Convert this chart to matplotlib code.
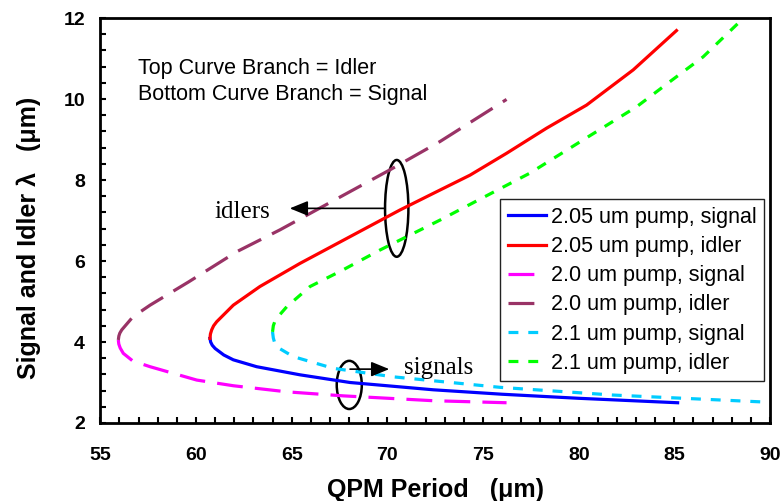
import numpy as np
import matplotlib
matplotlib.use("Agg")
import matplotlib.pyplot as plt
from matplotlib.patches import Ellipse

plt.rcParams['font.family'] = ['Liberation Sans', 'DejaVu Sans']

# 2.05 um pump
sig205_x = [60.73, 60.765, 60.85, 61.0, 61.45, 61.95, 63.17, 65.43, 68.05, 72.4, 76.0, 80.0, 85.17]
sig205_y = [4.09, 4.0, 3.92, 3.84, 3.68, 3.56, 3.39, 3.19, 3.00, 2.82, 2.71, 2.61, 2.50]
idl205_x = [60.73, 60.755, 60.82, 60.92, 61.08, 61.95, 63.34, 65.43, 70.66, 72.40, 74.32, 76.23, 78.32, 80.41, 82.85, 85.11]
idl205_y = [4.09, 4.2, 4.3, 4.4, 4.50, 4.91, 5.37, 5.94, 7.26, 7.67, 8.12, 8.66, 9.28, 9.85, 10.72, 11.69]
# 2.0 um pump
sig20_x = [55.94, 55.965, 56.04, 56.2, 56.7, 57.6, 60.04, 61.95, 64.74, 67.70, 72.4, 76.23]
sig20_y = [4.05, 3.95, 3.85, 3.72, 3.53, 3.39, 3.06, 2.92, 2.77, 2.67, 2.55, 2.50]
idl20_x = [55.94, 55.97, 56.02, 56.12, 56.7, 57.6, 59.6, 62.13, 64.39, 70.13, 72.75, 76.23]
idl20_y = [4.05, 4.15, 4.22, 4.30, 4.62, 4.91, 5.48, 6.23, 6.77, 8.25, 8.95, 9.99]
# 2.1 um pump
sig21_x = [64.0, 64.04, 64.1, 64.22, 65.08, 67.17, 70.31, 75.9, 81.8, 89.6]
sig21_y = [4.25, 4.1, 4.0, 3.88, 3.64, 3.35, 3.14, 2.88, 2.69, 2.52]
idl21_x = [64.0, 64.04, 64.15, 64.74, 65.96, 67.6, 69.61, 72.75, 74.49, 77.45, 80.23, 83.03, 84.77, 86.5, 88.33]
idl21_y = [4.25, 4.40, 4.55, 4.87, 5.37, 5.76, 6.27, 7.01, 7.44, 8.17, 8.99, 9.81, 10.43, 11.04, 11.87]

fig, ax = plt.subplots(figsize=(7.82, 5.01), dpi=100)
fig.subplots_adjust(left=0.1283, right=0.9847, bottom=0.1557, top=0.964)

lw = 2.3
long_dash = (0, (8.1, 3.8))
short_dash = (0, (3.1, 3.1))
ax.plot(sig205_x, sig205_y, color='#0000FF', lw=lw, label='2.05 um pump, signal')
ax.plot(idl205_x, idl205_y, color='#FF0000', lw=lw, label='2.05 um pump, idler')
ax.plot(sig20_x, sig20_y, color='#FF00FF', lw=lw, ls=long_dash, label='2.0 um pump, signal')
ax.plot(idl20_x, idl20_y, color='#993366', lw=lw, ls=long_dash, label='2.0 um pump, idler')
ax.plot(sig21_x, sig21_y, color='#00CCFF', lw=lw, ls=short_dash, label='2.1 um pump, signal')
ax.plot(idl21_x, idl21_y, color='#00FF00', lw=lw, ls=short_dash, label='2.1 um pump, idler')

ax.set_xlim(55, 90)
ax.set_ylim(2, 12)
ax.set_xticks(np.arange(55, 91, 5))
ax.set_xticks(np.arange(55, 91, 1), minor=True)
ax.set_yticks(np.arange(2, 13, 2))
ax.set_yticks(np.arange(2, 12.01, 0.4), minor=True)
ax.tick_params(which='both', direction='in', length=4.5, width=1.5, top=False, right=False)
ax.tick_params(axis='x', which='major', pad=17, labelsize=14)
ax.tick_params(axis='y', which='major', pad=11, labelsize=14)
for lab in ax.get_xticklabels() + ax.get_yticklabels():
    lab.set_fontweight('bold')
for sp in ax.spines.values():
    sp.set_linewidth(2.0)

ax.set_xlabel('QPM Period   (\u03bcm)', fontsize=18, fontweight='bold')
ax.xaxis.set_label_coords(0.5, -0.135)
ax.set_ylabel('Signal and Idler \u03bb   (\u03bcm)', fontsize=18, fontweight='bold')
ax.yaxis.set_label_coords(-0.088, 0.457)

ax.text(56.97, 10.63, 'Top Curve Branch = Idler', fontsize=15.5)
ax.text(56.97, 9.98, 'Bottom Curve Branch = Signal', fontsize=15.5)

head = '-|>,head_length=1.1,head_width=0.45'
# idlers marker
ax.add_patch(Ellipse((70.49, 7.30), 1.22, 2.39, fill=False, lw=1.8, color='k'))
ax.annotate('', xy=(64.9, 7.30), xytext=(69.88, 7.30),
            arrowprops=dict(arrowstyle=head, color='k', lw=1.2, shrinkA=0, shrinkB=0))
ax.text(63.9, 7.07, 'idlers', family='Liberation Serif', fontsize=18, ha='right', va='baseline')

# signals marker
ax.add_patch(Ellipse((68.01, 2.94), 1.31, 1.19, fill=False, lw=1.8, color='k'))
ax.annotate('', xy=(70.1, 3.33), xytext=(68.05, 3.33),
            arrowprops=dict(arrowstyle=head, color='k', lw=1.2, shrinkA=0, shrinkB=0))
ax.text(70.87, 3.21, 'signals', family='Liberation Serif', fontsize=18, ha='left', va='baseline')

leg = ax.legend(loc='upper right', bbox_to_anchor=(0.9915, 0.5523), borderaxespad=0,
                fontsize=15.5, handlelength=1.75, handletextpad=0.25, labelspacing=0.38,
                borderpad=0.35, fancybox=False, framealpha=1, edgecolor='#222222')
leg.get_frame().set_linewidth(1.0)

fig.savefig('out.png', dpi=100)
